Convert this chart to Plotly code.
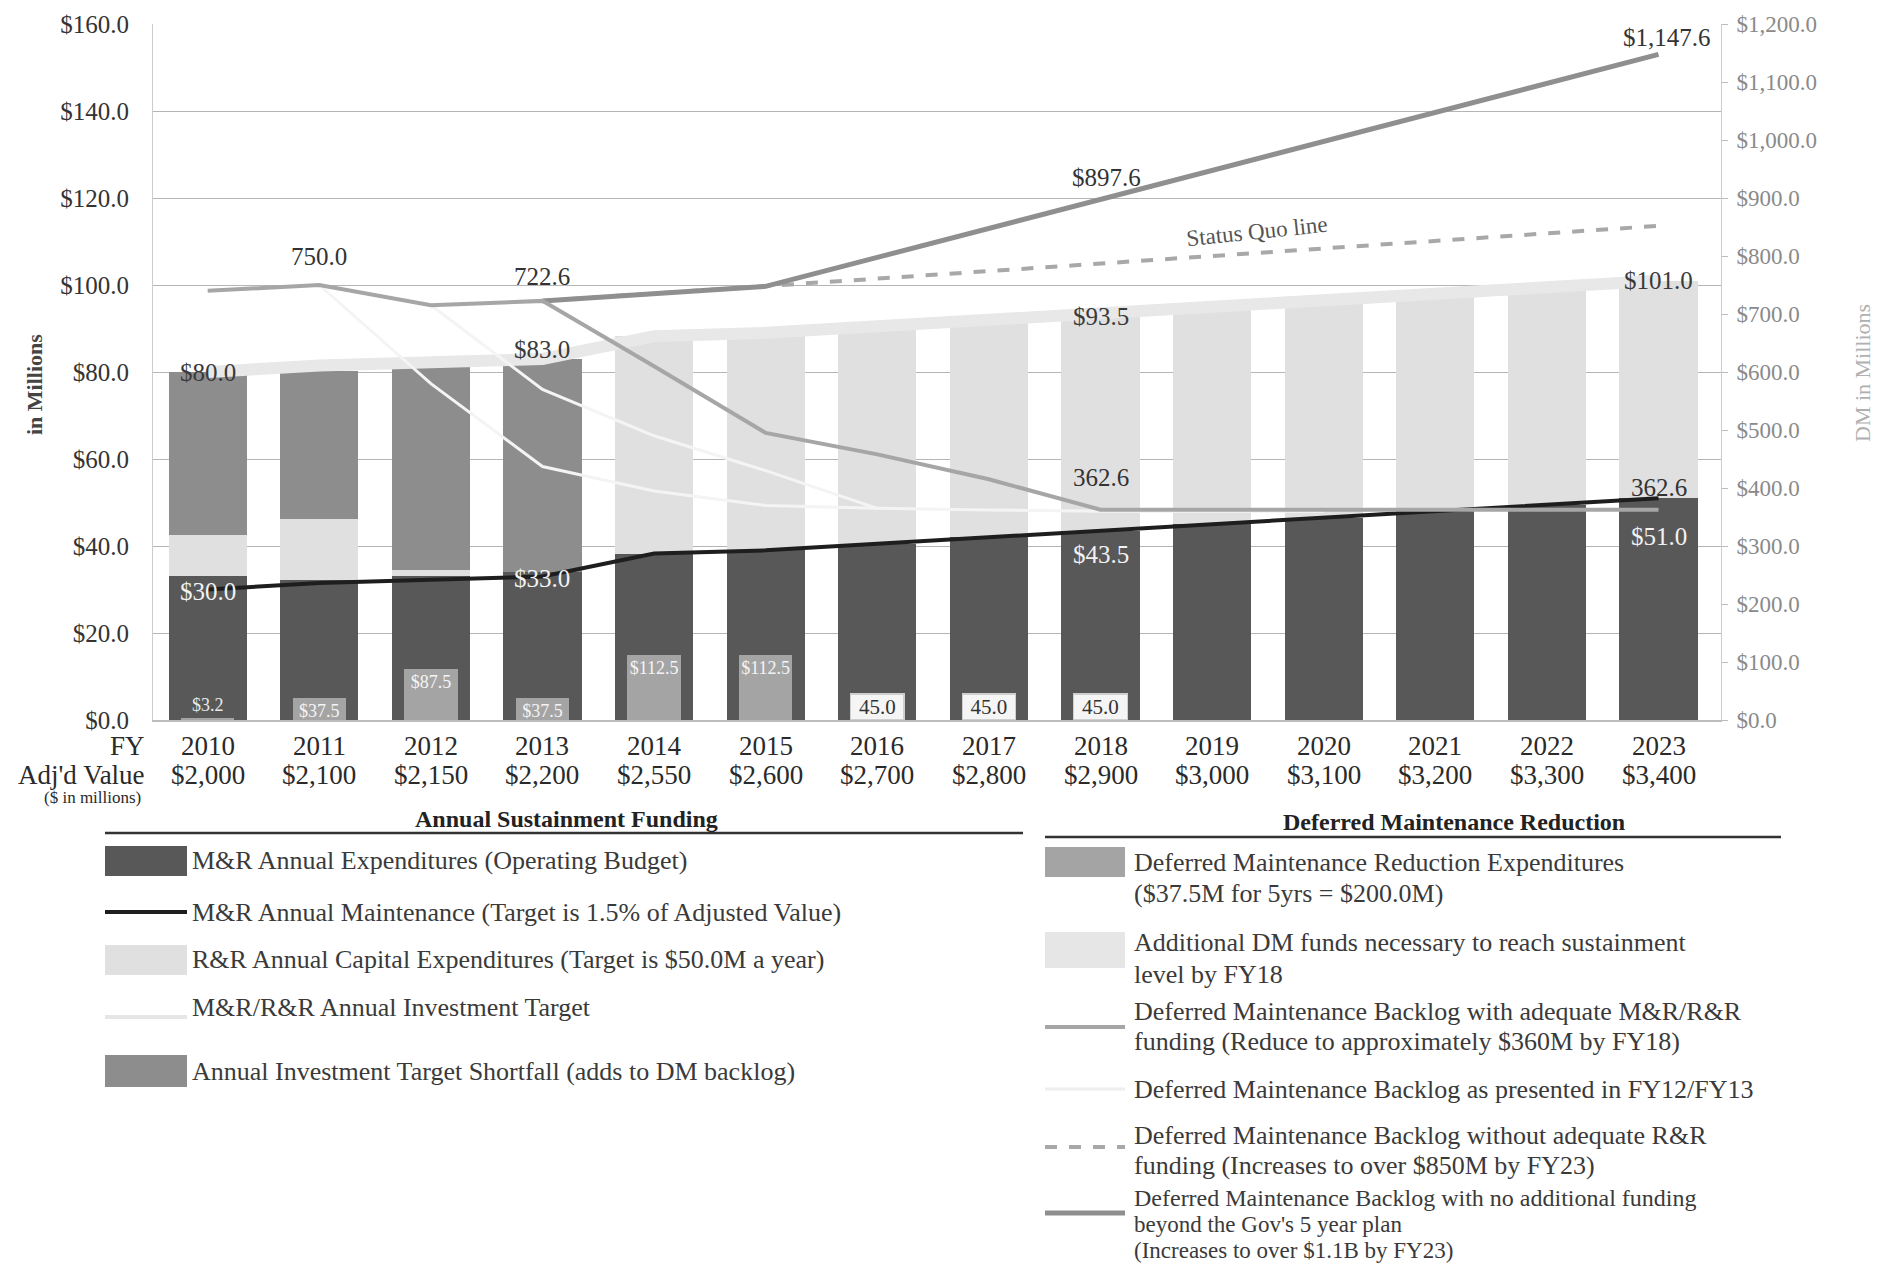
import plotly.graph_objects as go

# ---------------- data ----------------
years = ["2010", "2011", "2012", "2013", "2014", "2015", "2016",
         "2017", "2018", "2019", "2020", "2021", "2022", "2023"]
adj_value_labels = ["$2,000", "$2,100", "$2,150", "$2,200", "$2,550", "$2,600", "$2,700",
                    "$2,800", "$2,900", "$3,000", "$3,100", "$3,200", "$3,300", "$3,400"]

# left axis ($M)
mr_expenditures = [33.0, 32.3, 33.0, 34.0, 38.25, 39.0, 40.5, 42.0, 43.5, 45.0, 46.5, 48.0, 49.5, 51.0]
rr_capital = [9.5, 14.0, 1.4, 0.0, 50.0, 50.0, 50.0, 50.0, 50.0, 50.0, 50.0, 50.0, 50.0, 50.0]
target_shortfall = [37.5, 34.0, 47.1, 49.0, 0, 0, 0, 0, 0, 0, 0, 0, 0, 0]
mr_maintenance_target = [30.0, 31.5, 32.25, 33.0, 38.25, 39.0, 40.5, 42.0, 43.5, 45.0, 46.5, 48.0, 49.5, 51.0]
mr_maint_labels = ["$30.0", "", "", "$33.0", "", "", "", "", "$43.5", "", "", "", "", "$51.0"]
investment_target = [80.0, 81.5, 82.25, 83.0, 88.25, 89.0, 90.5, 92.0, 93.5, 95.0, 96.5, 98.0, 99.5, 101.0]
investment_labels = ["$80.0", "", "", "$83.0", "", "", "", "", "$93.5", "", "", "", "", "$101.0"]

# right axis (DM, $M)
dm_reduction = [3.2, 37.5, 87.5, 37.5, 112.5, 112.5, None, None, None, None, None, None, None, None]
dm_reduction_labels = ["$3.2", "$37.5", "$87.5", "$37.5", "$112.5", "$112.5", "", "", "", "", "", "", "", ""]
dm_additional = [None, None, None, None, None, None, 45.0, 45.0, 45.0, None, None, None, None, None]
dm_additional_labels = ["", "", "", "", "", "", "45.0", "45.0", "45.0", "", "", "", "", ""]

backlog_adequate = [740.0, 750.0, 715.0, 722.6, 610.0, 495.0, 458.0, 415.0, 362.6, 362.6, 362.6, 362.6, 362.6, 362.6]
backlog_adequate_labels = ["", "750.0", "", "722.6", "", "", "", "", "362.6", "", "", "", "", "362.6"]
backlog_fy12_fy13 = [None, 750.0, 580.0, 437.0, 395.0, 370.0, 365.0, 362.0, 360.0, 360.0, 360.0, None, None, None]
backlog_fy12_fy13_b = [None, None, 715.0, 570.0, 490.0, 430.0, 365.0, None, None, None, None, None, None, None]
backlog_status_quo = [None, None, None, 722.6, 735.0, 748.0, 761.0, 774.0, 787.0, 800.0, 813.0, 826.0, 839.0, 852.0]
backlog_no_funding = [None, None, None, 722.6, 735.1, 747.6, 797.6, 847.6, 897.6, 947.6, 997.6, 1047.6, 1097.6, 1147.6]
no_funding_labels = ["", "", "", "", "", "", "", "", "$897.6", "", "", "", "", "$1,147.6"]

# ---------------- layout geometry ----------------
OFF = 8                      # page body margin of the html page
W, H = 1887 - 2 * OFF, 1273 - 2 * OFF
PL, PR, PT, PB = 153, 1721, 24, 720   # plot area in page pixels
ML, MT = PL - OFF, PT - OFF
MR, MB = W - (PR - OFF), H - (PB - OFF)
PW, PH = PR - PL, PB - PT
FONT = "Liberation Serif"


def px(x):
    return (x - PL) / PW


def py(y):
    return (PB - y) / PH


fig = go.Figure()

# main stacked bars (left axis)
fig.add_trace(go.Bar(x=years, y=mr_expenditures, width=0.7, marker=dict(color="#585858", line=dict(width=0)),
                     name="M&R Annual Expenditures"))
fig.add_trace(go.Bar(x=years, y=rr_capital, width=0.7, marker=dict(color="#e0e0e0", line=dict(width=0)),
                     name="R&R Annual Capital Expenditures"))
fig.add_trace(go.Bar(x=years, y=target_shortfall, width=0.7, marker=dict(color="#8d8d8d", line=dict(width=0)),
                     name="Annual Investment Target Shortfall"))

# investment target band + maintenance line (left axis)
fig.add_trace(go.Scatter(x=years, y=investment_target, mode="lines",
                         line=dict(color="#e8e8e8", width=12), name="M&R/R&R Annual Investment Target"))
fig.add_trace(go.Scatter(x=years, y=mr_maintenance_target, mode="lines",
                         line=dict(color="#1e1e1e", width=4), name="M&R Annual Maintenance"))

# DM bars (right axis)
fig.add_trace(go.Bar(x=years, y=dm_reduction, yaxis="y2", width=0.48,
                     marker=dict(color="#a4a4a4", line=dict(width=0)),
                     text=dm_reduction_labels,
                     textposition=["outside"] + ["inside"] * 13, insidetextanchor="end",
                     constraintext="none", textangle=0,
                     textfont=dict(size=18, color="#f4f4f4", family=FONT),
                     outsidetextfont=dict(size=18, color="#e8e8e8", family=FONT),
                     cliponaxis=False, name="DM Reduction Expenditures"))
fig.add_trace(go.Bar(x=years, y=dm_additional, yaxis="y2", width=0.48,
                     marker=dict(color="#f5f5f5", line=dict(width=1.2, color="#cfcfcf")),
                     text=dm_additional_labels, textposition="inside", insidetextanchor="middle",
                     constraintext="none", textangle=0,
                     textfont=dict(size=21, color="#333333", family=FONT),
                     name="Additional DM funds"))

# DM backlog lines (right axis)
fig.add_trace(go.Scatter(x=years, y=backlog_fy12_fy13, yaxis="y2", mode="lines",
                         line=dict(color="#f4f4f4", width=3), name="DM backlog FY12/FY13"))
fig.add_trace(go.Scatter(x=years, y=backlog_fy12_fy13_b, yaxis="y2", mode="lines",
                         line=dict(color="#f4f4f4", width=3), name="DM backlog FY12/FY13 (b)"))
fig.add_trace(go.Scatter(x=years, y=backlog_status_quo, yaxis="y2", mode="lines",
                         line=dict(color="#a8a8a8", width=4, dash="dash"), name="Status quo"))
fig.add_trace(go.Scatter(x=years, y=backlog_no_funding, yaxis="y2", mode="lines",
                         line=dict(color="#8f8f8f", width=5), name="No additional funding"))
fig.add_trace(go.Scatter(x=years, y=backlog_adequate, yaxis="y2", mode="lines",
                         line=dict(color="#a6a6a6", width=4), name="Adequate funding"))

annotations = []


def point_labels(values, labels, yref, shifts, color, size=25, xshift=None):
    for i, (val, lab) in enumerate(zip(values, labels)):
        if lab:
            annotations.append(dict(x=i, xref="x", y=val, yref=yref, text=lab, showarrow=False,
                                    yshift=shifts.get(i, 0), xshift=(xshift or {}).get(i, 0),
                                    xanchor="center", yanchor="middle",
                                    font=dict(size=size, color=color, family=FONT)))


point_labels(investment_target, investment_labels, "y", {3: 9, 8: -3}, "#3a3a3a")
point_labels(mr_maintenance_target, mr_maint_labels, "y", {0: -2, 3: -2, 8: -24, 13: -38}, "#f2f2f2")
point_labels(backlog_adequate, backlog_adequate_labels, "y2", {1: 29, 3: 24, 8: 32, 13: 22}, "#333333")
point_labels(backlog_no_funding, no_funding_labels, "y2", {8: 22, 13: 17}, "#333333", xshift={8: 6, 13: 8})

# x-axis rows (category index positions)
for i, (yr, adj) in enumerate(zip(years, adj_value_labels)):
    annotations.append(dict(x=i, xref="x", y=py(746), yref="paper", text=yr, showarrow=False,
                            font=dict(size=27, color="#2a2a2a", family=FONT), xanchor="center", yanchor="middle"))
    annotations.append(dict(x=i, xref="x", y=py(775), yref="paper", text=adj, showarrow=False,
                            font=dict(size=27, color="#2a2a2a", family=FONT), xanchor="center", yanchor="middle"))
annotations.append(dict(x=px(147), xref="paper", y=py(746), yref="paper", text="FY", showarrow=False,
                        font=dict(size=27, color="#2a2a2a", family=FONT), xanchor="right", yanchor="middle"))
annotations.append(dict(x=px(147), xref="paper", y=py(775), yref="paper", text="Adj'd Value", showarrow=False,
                        font=dict(size=27, color="#2a2a2a", family=FONT), xanchor="right", yanchor="middle"))
annotations.append(dict(x=px(143), xref="paper", y=py(797), yref="paper", text="($ in millions)", showarrow=False,
                        font=dict(size=17, color="#2a2a2a", family=FONT), xanchor="right", yanchor="middle"))

# axis titles
annotations.append(dict(x=px(34), xref="paper", y=py(385), yref="paper", text="<b>in Millions</b>",
                        textangle=-90, showarrow=False, xanchor="center", yanchor="middle",
                        font=dict(size=22, color="#444444", family=FONT)))
annotations.append(dict(x=px(1863), xref="paper", y=py(373), yref="paper", text="DM in Millions",
                        textangle=-90, showarrow=False, xanchor="center", yanchor="middle",
                        font=dict(size=22, color="#b0b0b0", family=FONT)))

# status quo label
annotations.append(dict(x=9.4, xref="x", y=842, yref="y2", text="Status Quo line", textangle=-6,
                        showarrow=False, xanchor="center", yanchor="middle",
                        font=dict(size=23, color="#555555", family=FONT)))

shapes = []

# ---------- custom legend ----------
LEG_FONT = dict(size=26, color="#3a3a3a", family=FONT)


def legend_text(x, y, txt, size=None):
    font = dict(LEG_FONT)
    if size:
        font["size"] = size
    annotations.append(dict(x=px(x), xref="paper", y=py(y), yref="paper", text=txt, showarrow=False,
                            font=font, xanchor="left", yanchor="middle"))


def legend_rect(x0, x1, y0, y1, color):
    shapes.append(dict(type="rect", xref="paper", yref="paper", x0=px(x0), x1=px(x1), y0=py(y1), y1=py(y0),
                       fillcolor=color, line=dict(width=0)))


def legend_line(x0, x1, y, color, width, dash="solid"):
    shapes.append(dict(type="line", xref="paper", yref="paper", x0=px(x0), x1=px(x1), y0=py(y), y1=py(y),
                       line=dict(color=color, width=width, dash=dash)))


# headers
annotations.append(dict(x=px(566), xref="paper", y=py(819), yref="paper", text="<b>Annual Sustainment Funding</b>",
                        showarrow=False, xanchor="center", yanchor="middle",
                        font=dict(size=24, color="#222222", family=FONT)))
annotations.append(dict(x=px(1454), xref="paper", y=py(822), yref="paper", text="<b>Deferred Maintenance Reduction</b>",
                        showarrow=False, xanchor="center", yanchor="middle",
                        font=dict(size=24, color="#222222", family=FONT)))
legend_line(105, 1023, 833, "#333333", 2.5)
legend_line(1045, 1781, 837, "#333333", 2.5)

# left block
LX0, LX1, LT = 105, 187, 190
legend_rect(LX0, LX1, 846, 876, "#585858")
legend_text(LT, 860, "M&R Annual Expenditures (Operating Budget)")
legend_line(LX0, LX1, 912, "#1e1e1e", 4)
legend_text(LT, 912, "M&R Annual Maintenance (Target is 1.5% of Adjusted Value)")
legend_rect(LX0, LX1, 945, 975, "#e0e0e0")
legend_text(LT, 959, "R&R Annual Capital Expenditures (Target is $50.0M a year)")
legend_line(LX0, LX1, 1017, "#e6e6e6", 4)
legend_text(LT, 1007, "M&R/R&R Annual Investment Target")
legend_rect(LX0, LX1, 1055, 1087, "#8d8d8d")
legend_text(LT, 1071, "Annual Investment Target Shortfall (adds to DM backlog)")

# right block
RX0, RX1, RT = 1045, 1125, 1132
legend_rect(RX0, RX1, 847, 877, "#a4a4a4")
legend_text(RT, 862, "Deferred Maintenance Reduction Expenditures")
legend_text(RT, 893, "($37.5M for 5yrs = $200.0M)")
legend_rect(RX0, RX1, 932, 968, "#e6e6e6")
legend_text(RT, 942, "Additional DM funds necessary to reach sustainment")
legend_text(RT, 974, "level by FY18")
legend_line(RX0, RX1, 1027, "#a6a6a6", 4)
legend_text(RT, 1011, "Deferred Maintenance Backlog with adequate M&R/R&R")
legend_text(RT, 1041, "funding (Reduce to approximately $360M by FY18)")
legend_line(RX0, RX1, 1089, "#eeeeee", 3)
legend_text(RT, 1089, "Deferred Maintenance Backlog as presented in FY12/FY13")
legend_line(RX0, RX1, 1147, "#a8a8a8", 4, "dash")
legend_text(RT, 1135, "Deferred Maintenance Backlog without adequate R&R")
legend_text(RT, 1165, "funding (Increases to over $850M by FY23)")
legend_line(RX0, RX1, 1213, "#8f8f8f", 5)
legend_text(RT, 1198, "Deferred Maintenance Backlog with no additional funding", size=24)
legend_text(RT, 1224, "beyond the Gov's 5 year plan", size=23)
legend_text(RT, 1250, "(Increases to over $1.1B by FY23)", size=23)

fig.update_layout(
    width=W, height=H,
    margin=dict(l=ML, r=MR, t=MT, b=MB, autoexpand=False),
    barmode="stack",
    showlegend=False,
    plot_bgcolor="white",
    paper_bgcolor="white",
    font=dict(family=FONT, color="#333333"),
    xaxis=dict(type="category", range=[-0.49, 13.56], showticklabels=False, showgrid=False,
               showline=True, linecolor="#bdbdbd", linewidth=1.5, ticks="", automargin=False),
    yaxis=dict(range=[0, 160], dtick=20, tickprefix="$", tickformat=".1f", showgrid=True,
               gridcolor="#b5b5b5", gridwidth=1, zeroline=False, showline=True, linecolor="#cccccc",
               ticks="", ticklabelstandoff=18, automargin=False, ticklabeloverflow="allow",
               tickfont=dict(size=25, color="#333333", family=FONT)),
    yaxis2=dict(range=[0, 1200], dtick=100, tickprefix="$", tickformat=",.1f", overlaying="y", side="right",
                showgrid=False, zeroline=False, showline=True, linecolor="#cccccc", ticks="outside",
                ticklen=6, tickcolor="#bbbbbb", ticklabelstandoff=4, automargin=False,
                ticklabeloverflow="allow",
                tickfont=dict(size=23, color="#8a8a8a", family=FONT)),
    annotations=annotations,
    shapes=shapes,
)

fig.write_html("out.html")
